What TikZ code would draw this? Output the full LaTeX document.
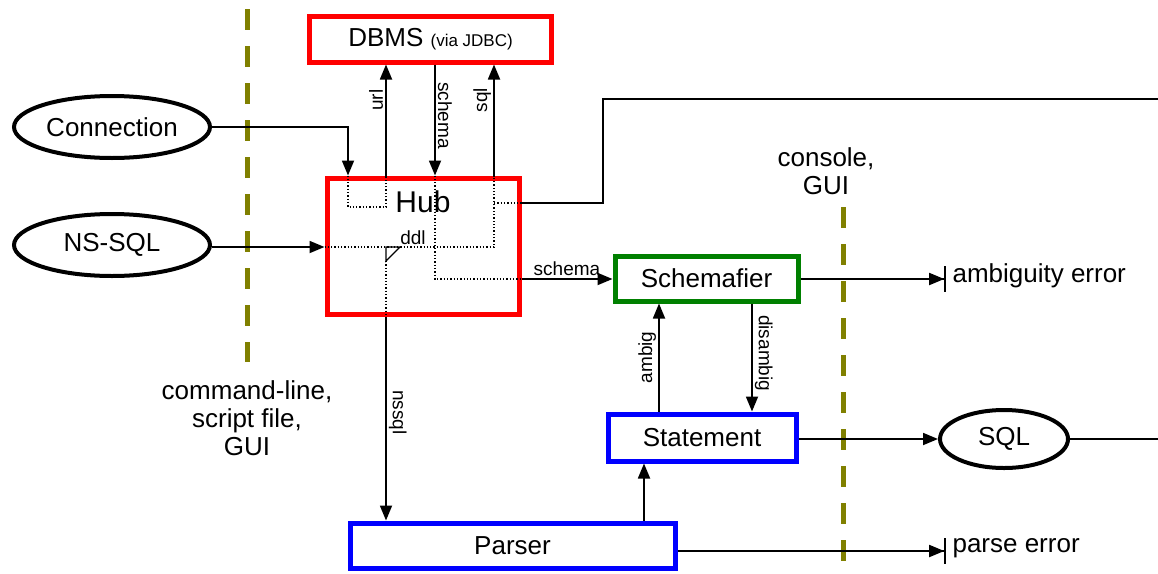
\documentclass[tikz,border=0pt]{standalone}
\usepackage{fontspec}
\setmainfont{Liberation Sans}
\usetikzlibrary{arrows.meta,shapes.geometric,calc}

\definecolor{boxred}{RGB}{255,0,0}
\definecolor{boxgreen}{RGB}{0,128,0}
\definecolor{boxblue}{RGB}{0,0,255}
\definecolor{bound}{RGB}{128,128,0}

\tikzset{
  big/.style={font=\fontsize{26}{31}\selectfont},
  lbl/.style={font=\fontsize{19}{22}\selectfont, inner sep=2pt},
  module/.style={draw, line width=5pt, rectangle, inner sep=0pt, big},
  actor/.style={draw, line width=4pt, ellipse, inner sep=0pt, big},
  flow/.style={line width=1.8pt, -{Triangle[length=15pt,width=12pt]}},
  plain/.style={line width=1.8pt},
  stopflow/.style={line width=1.8pt, -{Triangle[length=15pt,width=12pt]Bar[width=26pt,line width=1.8pt]}},
  inner/.style={line width=1.3pt, dotted},
  boundary/.style={line width=5pt, color=bound, dash pattern=on 21pt off 16pt},
}

\begin{document}
\begin{tikzpicture}[x=1pt,y=-1pt]
\useasboundingbox (0,0) rectangle (1158,573);

% user-interface boundaries
\draw[boundary] (247,9) -- (247,362);
\draw[boundary] (843,207) -- (843,566);
\node[big, align=center] (leftui) at (247,418) {command-line,\\[-3pt]script file,\\[-3pt]GUI};
\node[big, align=center] (rightui) at (826,171) {console,\\[-3pt]GUI};

% modules
\node[module, draw=boxred, minimum width=242pt, minimum height=46pt] (dbms) at (430.5,39)
  {DBMS {\fontsize{17}{20}\selectfont (via JDBC)}};
\node[module, draw=boxred, minimum width=192pt, minimum height=136pt] (hub) at (423,246) {};
\node[font=\fontsize{30}{36}\selectfont] (hubtext) at (423,202) {Hub};
\node[module, draw=boxgreen, minimum width=183pt, minimum height=45pt] (schem) at (706.5,278.5) {Schemafier};
\node[module, draw=boxblue, minimum width=188pt, minimum height=47pt] (stmt) at (702,437.5) {Statement};
\node[module, draw=boxblue, minimum width=325pt, minimum height=45pt] (parser) at (512.5,545.5) {Parser};

% inputs and outputs
\node[actor, minimum width=196pt, minimum height=62pt] (conn) at (112,127) {Connection};
\node[actor, minimum width=196pt, minimum height=62pt] (nssql) at (112,245) {NS-SQL};
\node[actor, minimum width=128pt, minimum height=58pt] (sql) at (1004,439) {SQL};

% column and row positions of the connectors
\coordinate (xconn) at (348,0);
\coordinate (xurl) at (386,0);
\coordinate (xschema) at (435,0);
\coordinate (xsql) at (494,0);
\coordinate (xambig) at (659,0);
\coordinate (xdis) at (752,0);
\coordinate (xparse) at (644,0);
\coordinate (xup) at (603,0);
\coordinate (yddl) at (0,247);
\coordinate (yloop) at (0,207);
\coordinate (yout) at (0,203);
\coordinate (ysch) at (0,279);
\coordinate (ytop) at (0,99);
\coordinate (ytri) at (0,261);
\coordinate (errA) at (946,279);
\coordinate (errB) at (946,551);
\coordinate (edgeTop) at (1158,99);
\coordinate (edgeSql) at (1158,439);

% connection and url
\draw[flow] (conn.east) -| (hub.north -| xconn);
\draw[inner] (hub.north -| xconn) -- (xconn |- yloop) -- (xurl |- yloop) -- (hub.north -| xurl);
\draw[flow] (hub.north -| xurl) -- (dbms.south -| xurl)
  node[lbl, pos=0.68, rotate=90, anchor=south] {url};

% schema from the DBMS to the Schemafier
\draw[flow] (dbms.south -| xschema) -- (hub.north -| xschema)
  node[lbl, pos=0.46, rotate=-90, anchor=south] {schema};
\draw[inner] (hub.north -| xschema) -- (xschema |- ysch) -- (hub.east |- ysch);
\draw[flow] (hub.east |- ysch) -- (schem.west |- ysch)
  node[lbl, midway, anchor=south] {schema};

% NS-SQL input, ddl to the DBMS
\draw[flow] (nssql.east |- yddl) -- (hub.west |- yddl);
\draw[inner] (hub.west |- yddl) -- (xsql |- yddl) -- (hub.north -| xsql);
\node[lbl, anchor=south] (ddl) at (413,247) {ddl};
\draw[flow] (hub.north -| xsql) -- (dbms.south -| xsql)
  node[lbl, pos=0.68, rotate=90, anchor=south] {sql};

% result line leaving the hub
\draw[inner] (xsql |- yout) -- (hub.east |- yout);
\draw[plain] (hub.east |- yout) -- (xup |- yout) -- (xup |- ytop) -- (edgeTop);

% nssql to the Parser
\draw[line width=1.3pt, line join=miter] (xurl |- yddl) -- ++(14,0) -- (xurl |- ytri) -- cycle;
\draw[inner] (xurl |- ytri) -- (hub.south -| xurl);
\draw[flow] (hub.south -| xurl) -- (parser.north -| xurl)
  node[lbl, pos=0.47, rotate=-90, anchor=south] {nssql};

% Statement and Schemafier
\draw[flow] (stmt.north -| xambig) -- (schem.south -| xambig)
  node[lbl, midway, rotate=90, anchor=south] {ambig};
\draw[flow] (schem.south -| xdis) -- (stmt.north -| xdis)
  node[lbl, pos=0.46, rotate=-90, anchor=south] {disambig};
\draw[flow] (parser.north -| xparse) -- (stmt.south -| xparse);

% outputs
\draw[stopflow] (schem.east |- errA) -- (errA);
\node[big, anchor=west] (amberr) at (949,276) {ambiguity error};
\draw[flow] (stmt.east |- sql) -- (sql.west);
\draw[plain] (sql.east) -- (edgeSql);
\draw[stopflow] (parser.east |- errB) -- (errB);
\node[big, anchor=west] (parerr) at (949,548) {parse error};
\end{tikzpicture}
\end{document}
